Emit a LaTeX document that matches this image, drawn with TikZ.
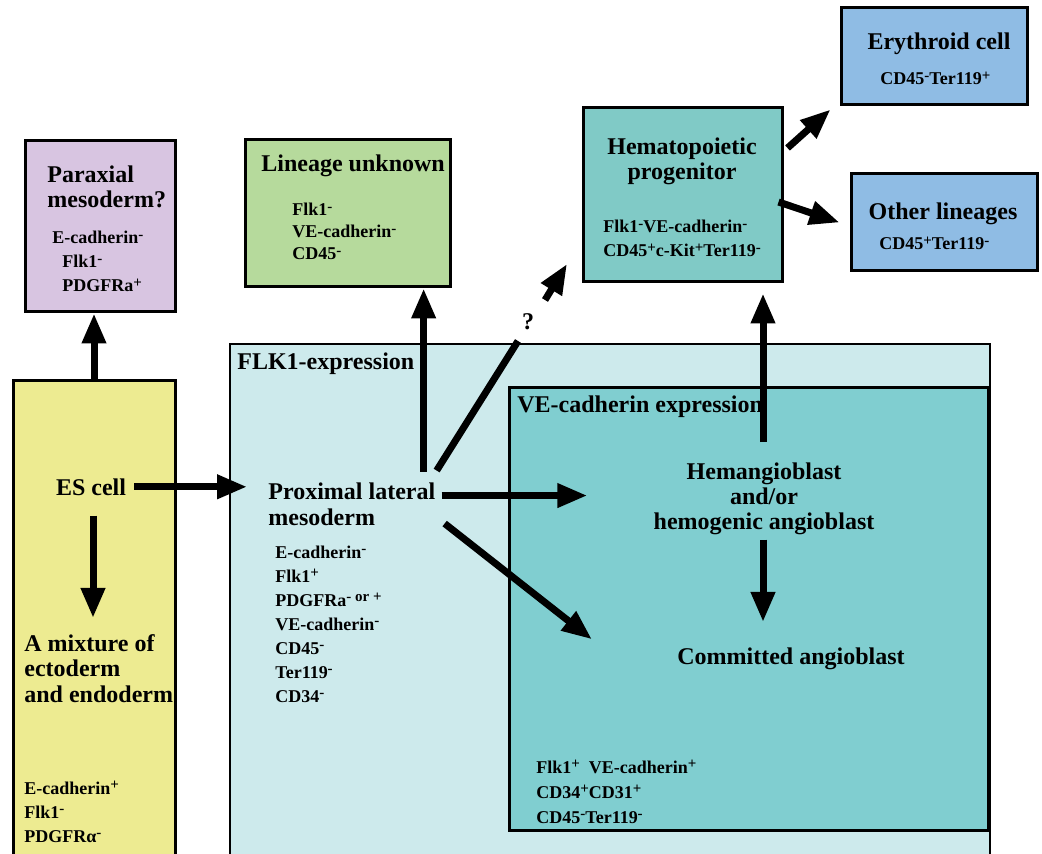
\documentclass[tikz,border=0pt]{standalone}
\usepackage{fontspec}
\setmainfont{Liberation Serif}
\usetikzlibrary{positioning,arrows.meta,calc,fit}
\definecolor{esYellow}{RGB}{237,235,145}
\definecolor{paraPurple}{RGB}{216,197,225}
\definecolor{lineageGreen}{RGB}{182,218,156}
\definecolor{flkCyan}{RGB}{205,234,236}
\definecolor{veTeal}{RGB}{128,206,208}
\definecolor{hemaTeal}{RGB}{128,202,198}
\definecolor{bloodBlue}{RGB}{143,188,228}
\newcommand{\mk}[1]{\raisebox{0.5ex}{\fontsize{7.5}{7.5}\selectfont #1}}

\tikzset{
  cellbox/.style={draw, line width=1.5pt, inner sep=0pt},
  bigtxt/.style={font=\fontsize{12}{12.7}\selectfont\bfseries, inner sep=0pt},
  smalltxt/.style={font=\fontsize{9}{12}\selectfont\bfseries, inner sep=0pt, align=left, anchor=base west},
  fatarrow/.style={-{Triangle[length=15pt,width=11.5pt]}, line width=3.5pt},
}

\begin{document}
\begin{tikzpicture}[x=0.5pt, y=-0.5pt]
  \useasboundingbox (0,0) rectangle (1042,854);

  % Expression regions
  \node[draw, line width=1pt, fill=flkCyan, inner sep=0pt, fit={(230,344) (990,880)}] (flkbox) {};
  \node[cellbox, fill=veTeal, fit={(509,388) (988,830)}] (vebox) {};
  \node[bigtxt, anchor=base west] (flklabel) at (237,370) {FLK1-expression};
  \node[bigtxt, anchor=base west] (velabel) at (517,413) {VE-cadherin expression};

  % Cell boxes
  \node[cellbox, fill=esYellow, fit={(13,381) (175,880)}] (esbox) {};
  \node[cellbox, fill=paraPurple, fit={(25,141) (175,312)}] (paraxbox) {};
  \node[cellbox, fill=lineageGreen, fit={(245,140) (450,287)}] (linbox) {};
  \node[cellbox, fill=hemaTeal, fit={(583,108) (782,282)}] (hematobox) {};
  \node[cellbox, fill=bloodBlue, fit={(841,8) (1027,105)}] (erybox) {};
  \node[cellbox, fill=bloodBlue, fit={(851,174) (1037,271)}] (otherbox) {};

  % ES cell column (multi-line texts sit on their last baseline)
  \node[bigtxt, anchor=base] (es) at (91,495) {ES cell};
  \node[bigtxt, align=left, anchor=base west] (mix) at (24,702) {A mixture of\\ectoderm\\and endoderm};
  \node[smalltxt] (mixmark) at (24,842) {E-cadherin\mk{+}\\Flk1\mk{-}\\PDGFRα\mk{-}};

  % Paraxial mesoderm
  \node[bigtxt, align=left, anchor=base west] (parax) at (47,208) {Paraxial\\mesoderm?};
  \node[smalltxt] (paraxmark) at (52,292) {E-cadherin\mk{-}\\\hspace*{5pt}Flk1\mk{-}\\\hspace*{5pt}PDGFRa\mk{+}};

  % Lineage unknown
  \node[bigtxt, anchor=base west] (lin) at (261,172) {Lineage unknown};
  \node[smalltxt] (linmark) at (292,260) {Flk1\mk{-}\\[-1pt]VE-cadherin\mk{-}\\[-1pt]CD45\mk{-}};

  % Proximal lateral mesoderm
  \node[bigtxt, align=left, anchor=base west] (prox) at (268,525) {Proximal lateral\\mesoderm};
  \node[smalltxt] (proxmark) at (275,702) {E-cadherin\mk{-}\\Flk1\mk{+}\\PDGFRa\mk{- or +}\\VE-cadherin\mk{-}\\CD45\mk{-}\\Ter119\mk{-}\\CD34\mk{-}};

  % Angioblasts
  \node[bigtxt, align=center, anchor=base] (hemang) at (764,530) {Hemangioblast\\and/or\\hemogenic angioblast};
  \node[bigtxt, anchor=base] (committed) at (791,664) {Committed angioblast};
  \node[smalltxt] (vemark) at (536,823) {Flk1\mk{+}\ \ VE-cadherin\mk{+}\\[0.5pt]CD34\mk{+}CD31\mk{+}\\[0.5pt]CD45\mk{-}Ter119\mk{-}};

  % Blood lineages
  \node[bigtxt, align=center, anchor=base] (hemato) at (682,180) {Hematopoietic\\progenitor};
  \node[smalltxt] (hematomark) at (603,257) {Flk1\mk{-}VE-cadherin\mk{-}\\CD45\mk{+}c-Kit\mk{+}Ter119\mk{-}};
  \node[bigtxt, anchor=base] (ery) at (939,50) {Erythroid cell};
  \node[smalltxt] (erymark) at (880,85) {CD45\mk{-}Ter119\mk{+}};
  \node[bigtxt, anchor=base] (other) at (943,220) {Other lineages};
  \node[smalltxt] (othermark) at (879,250) {CD45\mk{+}Ter119\mk{-}};

  % Arrows out of the ES cell
  \draw[fatarrow] (esbox.north) -- (esbox.north |- paraxbox.south);
  \draw[fatarrow] ($(es.south)+(2,20)$) -- ($(es.south |- mix.north)+(2,-16)$);
  \draw[fatarrow] ($(es.east)+(8,0)$) -- ($(es.east -| prox.west)+(-21,0)$);

  % Arrows out of the proximal lateral mesoderm
  \coordinate (pUp) at ($(prox.north east)+(-12,-11)$);
  \coordinate (pQ) at ($(prox.north east)+(1,-12)$);
  \coordinate (pRight) at ($(prox.north east)+(6,13)$);
  \coordinate (pDiag) at ($(prox.north east)+(9,41)$);
  \coordinate (qtip) at (567,264);
  \node[bigtxt] (qmark) at (528,322) {?};
  \draw[fatarrow] (pUp) -- (pUp |- linbox.south);
  \draw[line width=3.5pt] (pQ) -- ($(qmark)+(-10,19)$);
  \draw[fatarrow] ($(qmark)+(17,-22)$) -- (qtip);
  \draw[fatarrow] (pRight) -- ($(pRight -| hemang.west)+(-66,0)$);
  \draw[fatarrow] (pDiag) -- ($(committed.west)+(-85,-19)$);

  % Arrows out of the hemangioblast
  \draw[fatarrow] ($(hemang.north)+(-1,-20)$) -- ($(hemang.north |- hematobox.south)+(-1,10)$);
  \draw[fatarrow] ($(hemang.south)+(-1,4)$) -- ($(hemang.south |- committed.north)+(-1,-25)$);

  % Arrows out of the hematopoietic progenitor
  \draw[fatarrow] ($(hematobox.east)+(4,-47)$) -- ($(erybox.south west)+(-9,3)$);
  \draw[fatarrow] ($(hematobox.east)+(-5,7)$) -- ($(otherbox.west)+(-10,0)$);
\end{tikzpicture}
\end{document}
